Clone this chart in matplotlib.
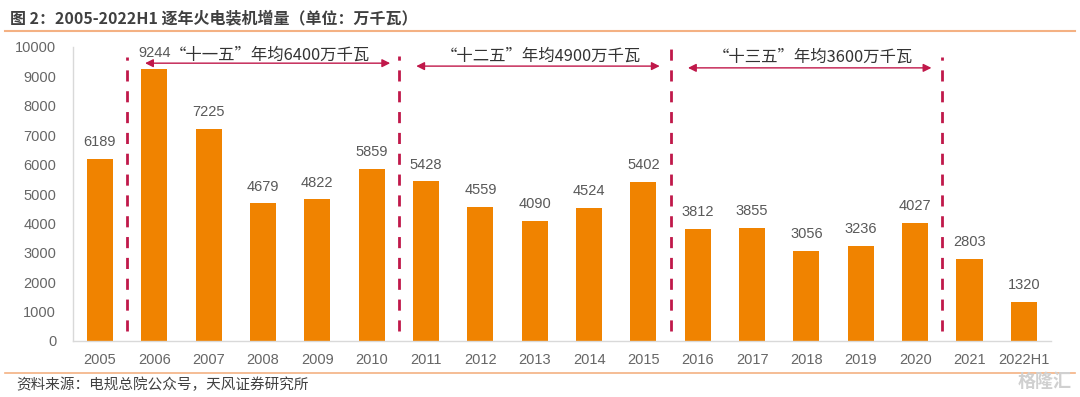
import matplotlib
matplotlib.use("Agg")
import matplotlib.pyplot as plt

plt.rcParams['font.family'] = ['Liberation Sans', 'Noto Sans CJK SC', 'DejaVu Sans']
CJK = ['Noto Sans CJK SC', 'DejaVu Sans']

years = ['2005', '2006', '2007', '2008', '2009', '2010', '2011', '2012', '2013',
         '2014', '2015', '2016', '2017', '2018', '2019', '2020', '2021', '2022H1']
values = [6189, 9244, 7225, 4679, 4822, 5859, 5428, 4559, 4090,
          4524, 5402, 3812, 3855, 3056, 3236, 4027, 2803, 1320]
period_labels = ['“十一五”年均6400万千瓦', '“十二五”年均4900万千瓦', '“十三五”年均3600万千瓦']
title = '图 2：2005-2022H1 逐年火电装机增量（单位：万千瓦）'
source = '资料来源：电规总院公众号，天风证券研究所'

W, H = 1080, 397
fig = plt.figure(figsize=(W/100, H/100), dpi=100)
ax = fig.add_axes([72.8/W, 1-341/H, (1051-72.8)/W, (341-47)/H])

x = list(range(len(years)))
bar_color = '#F08300'
ax.bar(x, values, width=0.48, color=bar_color, zorder=2)
ax.set_xlim(-0.5, len(years)-0.5)
ax.set_ylim(0, 10000)
ax.set_yticks(range(0, 10001, 1000))
ax.set_xticks(x)
ax.set_xticklabels(years)
ax.tick_params(axis='both', length=0, colors='#666666', labelsize=10.5)
ax.tick_params(axis='y', pad=12)
ax.tick_params(axis='x', pad=9)
for s in ['top', 'right']:
    ax.spines[s].set_visible(False)
for s in ['left', 'bottom']:
    ax.spines[s].set_color('#D9D9D9')
    ax.spines[s].set_linewidth(1)

for xi, v in zip(x, values):
    ax.text(xi, v + 330, str(v), ha='center', va='bottom', fontsize=10.5, color='#595959')

red = '#C0184A'
for bx, top in [(0.5, 9650), (5.5, 9700), (10.5, 10130), (15.5, 9650)]:
    ax.plot([bx, bx], [350, top], color=red, lw=2, ls=(0, (4, 3.5)), clip_on=False, zorder=3)

arrows = [(0.83, 5.34, 9450, 9730), (5.82, 10.3, 9350, 9700), (10.82, 15.3, 9290, 9660)]
for (x0, x1, y, ty), lab in zip(arrows, period_labels):
    ax.annotate('', xy=(x0, y), xytext=(x1, y),
                arrowprops=dict(arrowstyle='<|-|>', color=red, lw=1, mutation_scale=12,
                                shrinkA=0, shrinkB=0), annotation_clip=False)
    ax.text((x0 + x1) / 2 + 0.05, ty, lab, ha='center', va='center', fontsize=11.8,
            color='#333333', family=CJK)

fig.text(10/W, 1-18/H, title, fontsize=11.5, fontweight='bold', color='#404040',
         ha='left', va='center', family=CJK)
fig.add_artist(plt.Line2D([5/W, 1075/W], [1-31/H, 1-31/H], color='#F4B183', lw=1.5))
fig.add_artist(plt.Line2D([5/W, 1075/W], [1-373/H, 1-373/H], color='#F4B183', lw=1.2))
fig.text(16/W, 1-385/H, source, fontsize=10.5, color='#404040', ha='left', va='center',
         family=CJK)
fig.text(1072/W, 1-381/H, '格隆汇', fontsize=13, color='#D0D0D0', ha='right', va='center',
         fontweight='bold', family=CJK)

fig.savefig('out.png', dpi=100, facecolor='white')
